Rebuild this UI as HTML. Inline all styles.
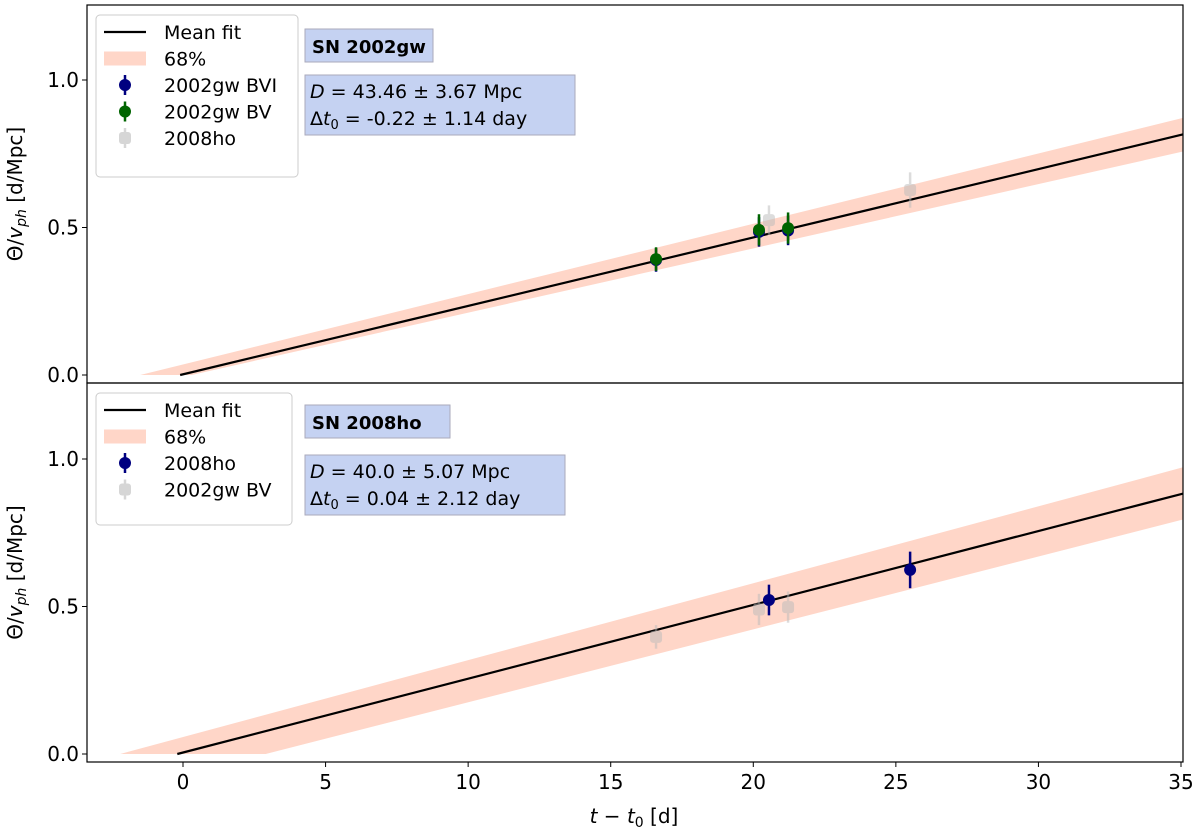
<!DOCTYPE html>
<html><head><meta charset="utf-8"><style>
body{margin:0;background:#fff;}
svg{font-family:"DejaVu Sans","Liberation Sans",sans-serif;}
</style></head><body>
<svg id="c" width="1200" height="831"></svg>
<script>
const xTicks=[0,5,10,15,20,25,30,35];
const yTicks=[0.0,0.5,1.0];
// top panel data
const topBVIx=[16.59,20.2,21.22];
const topBVIy=[0.39,0.485,0.49];
const topBVIerr=[0.04,0.05,0.05];
const topBVx=[16.59,20.2,21.22];
const topBVy=[0.393,0.492,0.498];
const topBVerr=[0.04,0.053,0.053];
const topHOx=[20.55,25.5];
const topHOy=[0.525,0.627];
const topHOerr=[0.05,0.06];
const topFit=[-0.1,0.814];
const topBandUpper=[-1.5,0.87];
const topBandLower=[0.3,0.756];
// bottom panel data
const botHOx=[20.55,25.5];
const botHOy=[0.522,0.624];
const botHOerr=[0.052,0.062];
const botBVx=[16.59,20.2,21.22];
const botBVy=[0.397,0.49,0.498];
const botBVerr=[0.04,0.053,0.053];
const botFit=[-0.2,0.881];
const botBandUpper=[-2.2,0.97];
const botBandLower=[2.9,0.793];

const NS="http://www.w3.org/2000/svg";
const svg=document.getElementById('c');
function el(t,a,p){const e=document.createElementNS(NS,t);for(const k in a)e.setAttribute(k,a[k]);(p||svg).appendChild(e);return e;}
const L=87,R=1183;
const xs=v=>183+(v)*(1181-183)/35;

function marker(g,cx,cy,c,sq){
  if(sq) el('rect',{x:cx-6,y:cy-6,width:12,height:12,rx:3,fill:c},g);
  else el('circle',{cx:cx,cy:cy,r:6,fill:c},g);
}
function panel(top,bot,y0,name,fit,bu,bl,series,legend,title,stats,legBox,titleBox,statBox,showX){
  const ys=v=>y0-v*295;
  const g=el('g',{});
  
  
  const cp=el('clipPath',{id:'cp'+name},g);el('rect',{x:L,y:top,width:R-L,height:bot-top},cp);
  const pg=el('g',{'clip-path':'url(#cp'+name+')'},g);
  const uy=x=>bu[1]*(x-bu[0])/(35-bu[0]);
  const ly=x=>bl[1]*(x-bl[0])/(35-bl[0]);
  const xe=36;
  const band=el('polygon',{points:`${xs(bu[0])},${ys(0)} ${xs(xe)},${ys(uy(xe))} ${xs(xe)},${ys(ly(xe))} ${xs(bl[0])},${ys(0)}`,fill:'#ffd6c8'},pg);
  
  
  const fy=x=>fit[1]*(x-fit[0])/(35-fit[0]);
  const ln=el('line',{x1:xs(fit[0]),y1:ys(0),x2:xs(xe),y2:ys(fy(xe)),stroke:'#000','stroke-width':2.2},pg);
  
  
  series.forEach(s=>{
    s.x.forEach((x,i)=>{
      const gg=el('g',{opacity:s.op},pg);
      
      
      el('line',{x1:xs(x),x2:xs(x),y1:ys(s.y[i]-s.e[i]),y2:ys(s.y[i]+s.e[i]),stroke:s.c,'stroke-width':2.5},gg);
      marker(gg,xs(x),ys(s.y[i]),s.c,s.sq);
    });
  });
  el('rect',{x:L,y:top,width:R-L,height:bot-top,fill:'none',stroke:'#000','stroke-width':1.2},g);
  yTicks.forEach(t=>{
    el('line',{x1:L-5,x2:L,y1:ys(t),y2:ys(t),stroke:'#000'},g);
    const tx=el('text',{x:L-8,y:ys(t)+7,'text-anchor':'end','font-size':20},g);tx.textContent=t.toFixed(1);
    
    
  });
  if(showX){xTicks.forEach(t=>{
    el('line',{x1:xs(t),x2:xs(t),y1:bot,y2:bot+5,stroke:'#000'},g);
    const tx=el('text',{x:xs(t),y:bot+27,'text-anchor':'middle','font-size':20},g);tx.textContent=t;
    
    
  });}
  const yl=el('text',{transform:`translate(22,${(top+bot)/2}) rotate(-90)`,'text-anchor':'middle','font-size':20},g);
  yl.innerHTML='Θ/<tspan font-style="italic">v</tspan><tspan font-style="italic" font-size="14" dy="4">ph</tspan><tspan dy="-4"> [d/Mpc]</tspan>';
  
  
  const lg=el('g',{},g);
  
  
  el('rect',{x:legBox[0],y:legBox[1],width:legBox[2],height:legBox[3],rx:4,fill:'#fff',stroke:'#ccc'},lg);
  legend.forEach((it,i)=>{
    const cy=legBox[1]+17+i*26.5;
    if(it.t==='line')el('line',{x1:104,x2:146,y1:cy,y2:cy,stroke:'#000','stroke-width':2.2},lg);
    else if(it.t==='band')el('rect',{x:104,y:cy-7,width:42,height:14,fill:'#ffd6c8'},lg);
    else{const q=el('g',{opacity:it.op},lg);el('line',{x1:125,x2:125,y1:cy-10,y2:cy+10,stroke:it.c,'stroke-width':2.5},q);marker(q,125,cy,it.c,it.sq);}
    const tx=el('text',{x:164,y:cy+7,'font-size':19},lg);tx.textContent=it.l;
  });
  const tb=el('g',{},g);
  
  
  el('rect',{x:titleBox[0],y:titleBox[1],width:titleBox[2],height:titleBox[3],fill:'#c5d2f2',stroke:'#aab'},tb);
  const tt=el('text',{x:titleBox[0]+7,y:titleBox[1]+24,'font-size':18,'font-weight':'bold'},tb);tt.textContent=title;
  const sb=el('g',{},g);
  
  
  el('rect',{x:statBox[0],y:statBox[1],width:statBox[2],height:statBox[3],fill:'#c5d2f2',stroke:'#aab'},sb);
  const s1=el('text',{x:statBox[0]+5,y:statBox[1]+23,'font-size':19},sb);
  s1.innerHTML='<tspan font-style="italic">D</tspan> = '+stats[0]+' Mpc';
  const s2=el('text',{x:statBox[0]+5,y:statBox[1]+50,'font-size':19},sb);
  s2.innerHTML='Δ<tspan font-style="italic">t</tspan><tspan font-size="13" dy="4">0</tspan><tspan dy="-4"> = '+stats[1]+' day</tspan>';
}
panel(5,383,375,'top',topFit,topBandUpper,topBandLower,
 [{n:'2008ho',x:topHOx,y:topHOy,e:topHOerr,c:'#bbb',op:0.5,sq:true},
  {n:'2002gw-bvi',x:topBVIx,y:topBVIy,e:topBVIerr,c:'#000080',op:1},
  {n:'2002gw-bv',x:topBVx,y:topBVy,e:topBVerr,c:'#006400',op:1}],
 [{t:'line',l:'Mean fit'},{t:'band',l:'68%'},{t:'pt',c:'#000080',op:1,l:'2002gw BVI'},{t:'pt',c:'#006400',op:1,l:'2002gw BV'},{t:'pt',c:'#bbb',op:0.6,sq:true,l:'2008ho'}],
 'SN 2002gw',['43.46 ± 3.67','-0.22 ± 1.14'],[96,15,202,162],[305,29,128,33],[305,75,270,60],false);
panel(383,762,754,'bottom',botFit,botBandUpper,botBandLower,
 [{n:'2002gw-bv',x:botBVx,y:botBVy,e:botBVerr,c:'#bbb',op:0.5,sq:true},
  {n:'2008ho',x:botHOx,y:botHOy,e:botHOerr,c:'#000080',op:1}],
 [{t:'line',l:'Mean fit'},{t:'band',l:'68%'},{t:'pt',c:'#000080',op:1,l:'2008ho'},{t:'pt',c:'#bbb',op:0.6,sq:true,l:'2002gw BV'}],
 'SN 2008ho',['40.0 ± 5.07','0.04 ± 2.12'],[96,393,196,132],[305,405,145,33],[305,455,260,60],true);
const xl=el('text',{x:634,y:823,'text-anchor':'middle','font-size':20});
xl.innerHTML='<tspan font-style="italic">t</tspan> − <tspan font-style="italic">t</tspan><tspan font-size="14" dy="4">0</tspan><tspan dy="-4"> [d]</tspan>';


</script>
</body></html>
